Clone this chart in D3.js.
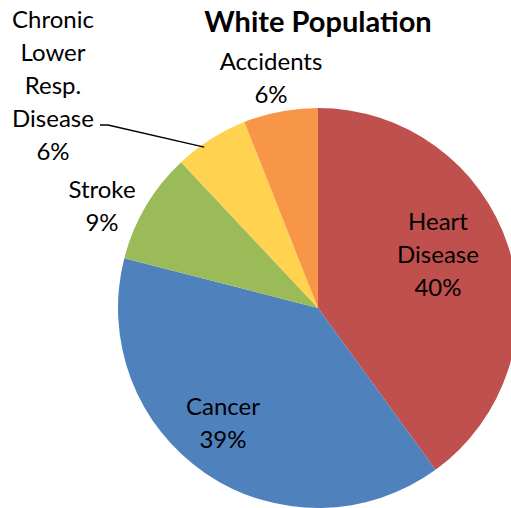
<!DOCTYPE html>
<html>
<head>
<meta charset="utf-8">
<script src="https://cdn.jsdelivr.net/npm/d3@7"></script>
<style>
  body { margin: 0; background: #fff; }
  svg text { font-family: Lato, "Open Sans", sans-serif; fill: #000; }
</style>
</head>
<body>
<div id="chart"></div>
<script>
// data
const categories = ['Heart Disease', 'Cancer', 'Stroke', 'Chronic Lower Resp. Disease', 'Accidents'];
const values = [40, 39, 9, 6, 6];
const colors = ['#C0504D', '#4F81BD', '#9BBB59', '#FFD34F', '#F79646'];

// label lines, per slice
const labelLines = [
    ['Heart', 'Disease', '40%'],
    ['Cancer', '39%'],
    ['Stroke', '9%'],
    ['Chronic', 'Lower', 'Resp.', 'Disease', '6%'],
    ['Accidents', '6%']
];

const width = 511, height = 508;
const cx = 318, cy = 308, r = 200;
const lineH = 33;

const svg = d3.select('#chart').append('svg')
    .attr('width', width)
    .attr('height', height);

svg.append('text')
    .attr('x', 318)
    .attr('y', 32)
    .attr('text-anchor', 'middle')
    .style('font-size', '29px')
    .style('font-weight', 'bold')
    .text('White Population');

const pie = d3.pie().sort(null).value(d => d);
const arcs = pie(values);
const arc = d3.arc().innerRadius(0).outerRadius(r);

const g = svg.append('g').attr('transform', `translate(${cx},${cy})`);

g.selectAll('path')
    .data(arcs)
    .enter()
    .append('path')
    .attr('d', arc)
    .attr('fill', (d, i) => colors[i]);

// label centres (first line centre), in page coords
const labelPos = [
    [438, 222],
    [223, 407],
    [102, 190],
    [53, 20],
    [271, 62]
];

labelLines.forEach((lines, i) => {
    const t = svg.append('text')
        .attr('text-anchor', 'middle')
        .style('font-size', '24px');
    lines.forEach((s, j) => {
        t.append('tspan')
            .attr('x', labelPos[i][0])
            .attr('y', labelPos[i][1] + j * lineH)
            .attr('dy', '0.35em')
            .text(s);
    });
});

// leader line for the small yellow slice
const mid = (arcs[3].startAngle + arcs[3].endAngle) / 2;
const ex = cx + Math.sin(mid - 0.05) * (r - 3);
const ey = cy - Math.cos(mid - 0.05) * (r - 3);
svg.append('path')
    .attr('d', `M100,125 L108,125 L${ex},${ey}`)
    .attr('fill', 'none')
    .attr('stroke', '#000')
    .attr('stroke-width', 1.3);
</script>
</body>
</html>
